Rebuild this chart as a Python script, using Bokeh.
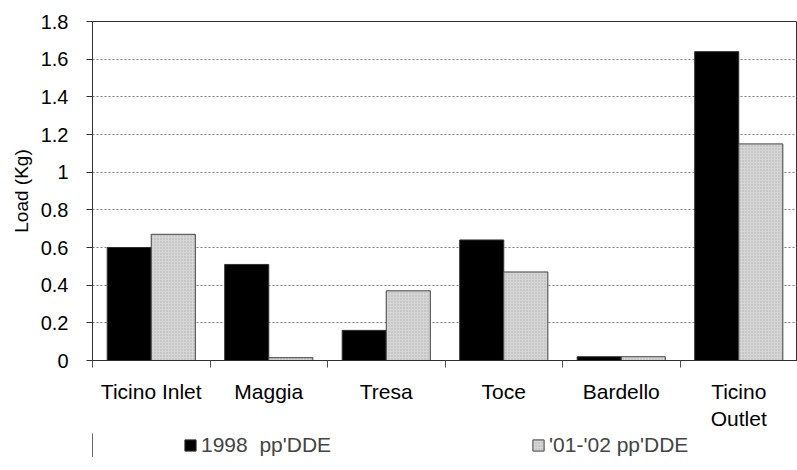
from bokeh.plotting import figure
from bokeh.models import Range1d, FixedTicker, ColumnDataSource, Legend, LegendItem
from bokeh.layouts import column
from bokeh.embed import file_html
from bokeh.resources import INLINE

categories = ["Ticino Inlet", "Maggia", "Tresa", "Toce", "Bardello", "Ticino\nOutlet"]
series_1998 = [0.60, 0.51, 0.16, 0.64, 0.02, 1.64]
series_0102 = [0.67, 0.015, 0.37, 0.47, 0.02, 1.15]
y_ticks = [0, 0.2, 0.4, 0.6, 0.8, 1.0, 1.2, 1.4, 1.6, 1.8]
y_tick_labels = ["0", "0.2", "0.4", "0.6", "0.8", "1", "1.2", "1.4", "1.6", "1.8"]
legend_labels = ["1998  pp'DDE", "'01-'02 pp'DDE"]

FONT = "Liberation Sans"
n = len(categories)
w = 0.375
centers = [i + 0.5 for i in range(n)]

BLACK_STYLE = dict(fill_color="black", line_color="#303030", line_width=1)
GRAY_STYLE = dict(fill_color="#d6d6d6", line_color="#404040", line_width=1,
                  hatch_pattern="dot", hatch_color="#b0b0b0", hatch_scale=3, hatch_weight=1)

p = figure(width=797, height=446, output_backend="svg", toolbar_location=None,
           x_range=Range1d(0, n), y_range=Range1d(0, 1.8),
           frame_width=705, frame_height=339,
           min_border_left=92, min_border_top=21, min_border_right=0, min_border_bottom=0)

p.background_fill_color = "white"
p.border_fill_color = "white"
p.outline_line_color = "#303030"
p.outline_line_width = 1

src1 = ColumnDataSource(dict(x=[c - w / 2 for c in centers], top=series_1998))
src2 = ColumnDataSource(dict(x=[c + w / 2 for c in centers], top=series_0102))

p.vbar(x="x", top="top", width=w, bottom=0, source=src1, **BLACK_STYLE)
p.vbar(x="x", top="top", width=w, bottom=0, source=src2, **GRAY_STYLE)

xa = p.xaxis[0]
xa.ticker = FixedTicker(ticks=centers, minor_ticks=list(range(n + 1)))
xa.major_label_overrides = {c: lab for c, lab in zip(centers, categories)}
xa.major_tick_line_color = None
xa.minor_tick_in = 0
xa.minor_tick_out = 7
xa.minor_tick_line_color = "#505050"
xa.axis_line_color = "#303030"
xa.major_label_text_font = FONT
xa.major_label_text_font_size = "21px"
xa.major_label_text_color = "black"
xa.major_label_standoff = 12

ya = p.yaxis[0]
ya.ticker = FixedTicker(ticks=y_ticks)
ya.major_label_overrides = {t: l for t, l in zip(y_ticks, y_tick_labels)}
ya.minor_tick_line_color = None
ya.major_tick_in = 0
ya.major_tick_out = 6
ya.major_tick_line_color = "#303030"
ya.axis_line_color = "#303030"
ya.major_label_text_font = FONT
ya.major_label_text_font_size = "20px"
ya.major_label_text_color = "black"
ya.major_label_standoff = 18
ya.axis_label = "Load (Kg)"
ya.axis_label_text_font = FONT
ya.axis_label_text_font_size = "19px"
ya.axis_label_text_font_style = "normal"
ya.axis_label_text_color = "black"
ya.axis_label_standoff = 6

p.xgrid.grid_line_color = None
p.ygrid.ticker = FixedTicker(ticks=y_ticks[1:])
p.ygrid.grid_line_color = "#808080"
p.ygrid.grid_line_dash = "2 2"
p.ygrid.grid_line_width = 1

# Legend strip below the chart (a small figure holding only the legend)
lg = figure(width=797, height=24, output_backend="svg", toolbar_location=None,
            x_range=Range1d(0, 1), y_range=Range1d(0, 1),
            x_axis_location=None, y_axis_location=None,
            min_border_left=0, min_border_right=0, min_border_top=0, min_border_bottom=0)
lg.outline_line_color = None
lg.grid.visible = False
lg.background_fill_color = "white"
lg.border_fill_color = "white"
g1 = lg.vbar(x=[-10], top=[1], width=0.1, **BLACK_STYLE)
g2 = lg.vbar(x=[-10], top=[1], width=0.1, **GRAY_STYLE)

legend = Legend(items=[LegendItem(label=legend_labels[0], renderers=[g1]),
                       LegendItem(label=legend_labels[1], renderers=[g2])],
                orientation="horizontal", location=(91, 0),
                spacing=200, glyph_width=14, glyph_height=14,
                label_text_font=FONT, label_text_font_size="21px",
                label_standoff=4, border_line_color=None,
                background_fill_alpha=0, margin=0, padding=0)
lg.add_layout(legend, "center")

layout = column(p, lg, spacing=0)
open("out.html", "w").write(file_html(layout, INLINE))
